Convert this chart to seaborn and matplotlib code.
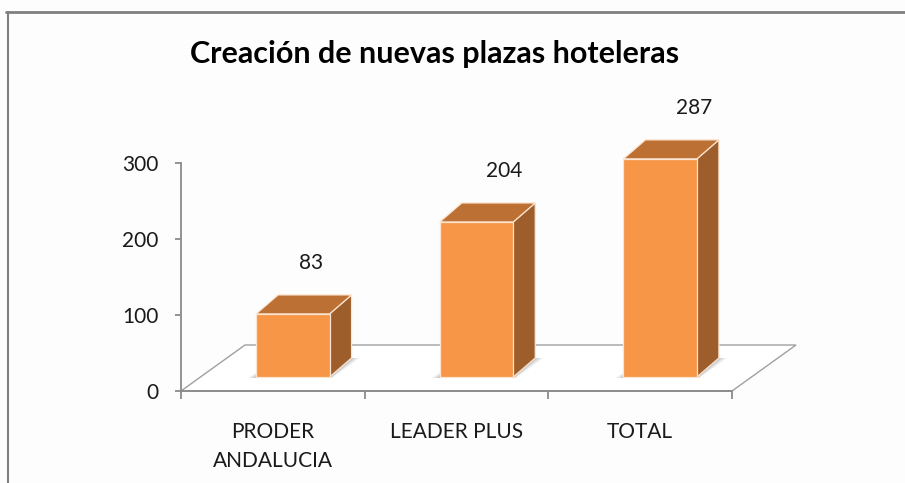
import matplotlib
matplotlib.use("Agg")
import matplotlib.pyplot as plt
import seaborn as sns
import pandas as pd
from matplotlib.patches import Polygon
from matplotlib.lines import Line2D
from matplotlib.transforms import IdentityTransform, ScaledTranslation

# ---- data ----
categories = ["PRODER\nANDALUCIA", "LEADER PLUS", "TOTAL"]
values = [83, 204, 287]
y_ticks = [0, 100, 200, 300]
title = "Creación de nuevas plazas hoteleras"

# ---- style ----
FRONT = "#F79646"
TOP = "#BD7033"
SIDE = "#9E5E2B"
EDGE = "#FCE4D0"
AXIS = "#8a8a8a"
TEXT = "#1a1a1a"

sns.set_theme(style="white")
plt.rcParams["font.family"] = ["Lato", "DejaVu Sans"]

W, H = 905, 483
fig = plt.figure(figsize=(W / 100, H / 100), dpi=100)
fig.patch.set_facecolor("#fdfdfd")

ax = fig.add_axes([181 / W, (H - 391) / H, 551 / W, 228 / H])
ax.set_facecolor("none")

df = pd.DataFrame({"cat": categories, "val": values})
BAR_W = 0.4
sns.barplot(data=df, x="cat", y="val", order=categories, width=BAR_W,
            color=FRONT, saturation=1, edgecolor=EDGE, linewidth=0.9,
            ax=ax, zorder=5)

ax.set_xlim(-0.5, len(categories) - 0.5)
ax.set_ylim(0, 300)
ax.set_xlabel("")
ax.set_ylabel("")

# depth offsets in pixels (front face and back face of bars, floor depth)
FRONT_OFF = (20, 14)
BACK_OFF = (42, 33)
FLOOR_OFF = (64, 46)

fig.canvas.draw()

# shift the front faces of the bars into the middle of the floor depth
shift = ScaledTranslation(FRONT_OFF[0] / 100, FRONT_OFF[1] / 100, fig.dpi_scale_trans)
for p in ax.patches:
    p.set_transform(ax.transData + shift)
    p.set_clip_on(False)


def disp(x, y, off=(0, 0)):
    px, py = ax.transData.transform((x, y))
    return (px + off[0], py + off[1])


ident = IdentityTransform()

# floor
n = len(categories)
floor = [disp(-0.5, 0), disp(n - 0.5, 0), disp(n - 0.5, 0, FLOOR_OFF), disp(-0.5, 0, FLOOR_OFF)]
ax.add_patch(Polygon(floor, closed=True, transform=ident, facecolor="white",
                     edgecolor="#a0a0a0", linewidth=1.0, zorder=1, clip_on=False))

for i, v in enumerate(values):
    x0, x1 = i - BAR_W / 2, i + BAR_W / 2
    # soft shadow on floor
    for k, a in [(8, 0.10), (5, 0.14), (2, 0.18)]:
        fp = [disp(x0, 0, (FRONT_OFF[0] - k, FRONT_OFF[1] - 1)),
              disp(x1, 0, (FRONT_OFF[0] + k * 0.3, FRONT_OFF[1] - 1)),
              disp(x1, 0, (BACK_OFF[0] + k, BACK_OFF[1])),
              disp(x0, 0, (BACK_OFF[0], BACK_OFF[1]))]
        ax.add_patch(Polygon(fp, closed=True, transform=ident, facecolor="#606060",
                             edgecolor="none", alpha=a, zorder=2, clip_on=False))
    side = [disp(x1, 0, FRONT_OFF), disp(x1, 0, BACK_OFF),
            disp(x1, v, BACK_OFF), disp(x1, v, FRONT_OFF)]
    ax.add_patch(Polygon(side, closed=True, transform=ident, facecolor=SIDE,
                         edgecolor=EDGE, linewidth=0.9, zorder=4, clip_on=False))
    top = [disp(x0, v, FRONT_OFF), disp(x1, v, FRONT_OFF),
           disp(x1, v, BACK_OFF), disp(x0, v, BACK_OFF)]
    ax.add_patch(Polygon(top, closed=True, transform=ident, facecolor=TOP,
                         edgecolor=EDGE, linewidth=0.9, zorder=4, clip_on=False))
    # value label
    fx, fy = disp(i, v, FRONT_OFF)
    h_px = fy - disp(i, 0, FRONT_OFF)[1]
    ax.text(fx + 12 + 0.1 * h_px, fy + 45, f"{v}", transform=ident,
            ha="center", va="baseline", fontsize=15, color=TEXT, zorder=6)

# axes styling
for s in ["top", "right"]:
    ax.spines[s].set_visible(False)
for s in ["left", "bottom"]:
    ax.spines[s].set_color(AXIS)
    ax.spines[s].set_linewidth(1.3)
    ax.spines[s].set_zorder(3)

ax.set_yticks(y_ticks)
ax.set_yticklabels([str(t) for t in y_ticks])
ax.tick_params(axis="y", direction="out", length=4, width=1.3, color=AXIS,
               pad=12, labelsize=15, labelcolor=TEXT, left=True)

ax.set_xticks(range(n))
ax.set_xticklabels(categories, linespacing=1.6)
ax.tick_params(axis="x", which="major", length=0, pad=22, labelsize=15, labelcolor=TEXT)
ax.set_xticks([i - 0.5 for i in range(n + 1)], minor=True)
ax.tick_params(axis="x", which="minor", direction="out", length=6, width=1.3,
               color=AXIS, bottom=True)

# title
fig.text(435 / W, (H - 63) / H, title, ha="center", va="baseline",
         fontsize=22, fontweight="bold", color="#000000")

# chart frame (top and left border)
fig.add_artist(Line2D([6 / W, 1.0], [(H - 12) / H] * 2, color="#808080", linewidth=2.0))
fig.add_artist(Line2D([8 / W, 8 / W], [(H - 12) / H, 0], color="#808080", linewidth=1.5))

fig.savefig("out.png", dpi=100, facecolor=fig.get_facecolor())
